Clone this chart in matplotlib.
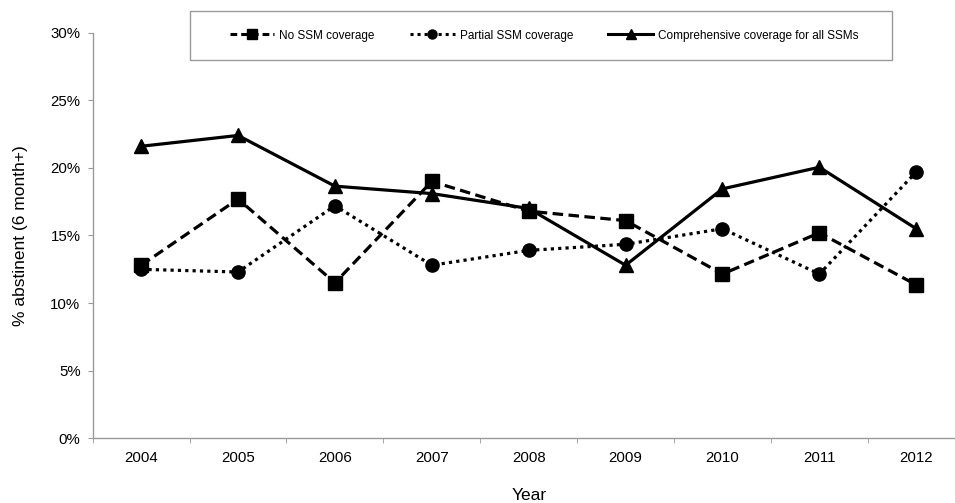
import matplotlib
matplotlib.use('Agg')
import matplotlib.pyplot as plt
from matplotlib.lines import Line2D
from matplotlib.patches import Rectangle
from matplotlib.ticker import FixedLocator, FuncFormatter

years = ['2004', '2005', '2006', '2007', '2008', '2009', '2010', '2011', '2012']
no_ssm = [12.8, 17.7, 11.5, 19.0, 16.8, 16.1, 12.15, 15.2, 11.35]
partial_ssm = [12.5, 12.3, 17.2, 12.8, 13.9, 14.35, 15.5, 12.15, 19.7]
comprehensive = [21.6, 22.4, 18.65, 18.1, 17.0, 12.8, 18.45, 20.05, 15.5]
series_labels = ['No SSM coverage', 'Partial SSM coverage', 'Comprehensive coverage for all SSMs']

plt.rcParams['font.family'] = ['Liberation Sans', 'DejaVu Sans']
GRAY = '#9a9a9a'

fig = plt.figure(figsize=(9.55, 5.03), dpi=100)
ax = fig.add_axes([92.7 / 955, 1 - 438.3 / 503, 872 / 955, 405.6 / 503])

x = list(range(len(years)))
dash = (0, (3.3, 1.7))
dot = (0, (1.0, 1.3))

ax.plot(x, [v / 100 for v in no_ssm], color='black', lw=2.3, linestyle=dash,
        marker='s', ms=9.5, zorder=3)
ax.plot(x, [v / 100 for v in partial_ssm], color='black', lw=2.3, linestyle=dot,
        marker='o', ms=9.5, zorder=4)
ax.plot(x, [v / 100 for v in comprehensive], color='black', lw=2.3, linestyle='-',
        marker='^', ms=10.5, zorder=5)

# axes
ax.set_xlim(-0.5, len(years) - 0.5)
ax.set_ylim(0, 0.30)
ax.set_yticks([i * 0.05 for i in range(7)])
ax.yaxis.set_major_formatter(FuncFormatter(lambda v, p: '%d%%' % round(v * 100)))
ax.set_xticks(x)
ax.set_xticklabels(years)
ax.xaxis.set_minor_locator(FixedLocator([i - 0.5 for i in range(len(years) + 1)]))
ax.tick_params(axis='x', which='major', length=0, pad=9.5, labelsize=10.8)
ax.tick_params(axis='x', which='minor', length=3.3, color=GRAY, direction='out')
ax.tick_params(axis='y', length=3.3, color=GRAY, direction='out', pad=5.5, labelsize=10.8)

for side in ['top', 'right']:
    ax.spines[side].set_visible(False)
for side in ['left', 'bottom']:
    ax.spines[side].set_color(GRAY)
    ax.spines[side].set_linewidth(1.0)

fig.text(528.7 / 955, 1 - 495 / 503, 'Year', ha='center', va='center', fontsize=12.5)
fig.text(20 / 955, 1 - 235.5 / 503, '% abstinent (6 month+)', ha='center', va='center',
         rotation=90, fontsize=12.5)

# legend
handles = [
    Line2D([], [], color='black', lw=2.2, linestyle=(0, (2.2, 1.3)), marker='s', ms=6.5),
    Line2D([], [], color='black', lw=2.2, linestyle=(0, (1.0, 1.3)), marker='o', ms=6.5),
    Line2D([], [], color='black', lw=2.2, linestyle='-', marker='^', ms=7),
]
fig.legend(handles, series_labels, loc='center', bbox_to_anchor=(544 / 955, 1 - 35.5 / 503),
           ncol=3, frameon=False, fontsize=8.5, handlelength=3.8, handletextpad=0.4,
           columnspacing=3.0, borderpad=0)
fig.patches.append(Rectangle((190 / 955, 1 - 60 / 503), 702 / 955, 49 / 503,
                             transform=fig.transFigure, fill=False, edgecolor=GRAY, lw=1.0))

fig.savefig('out.png', dpi=100)
